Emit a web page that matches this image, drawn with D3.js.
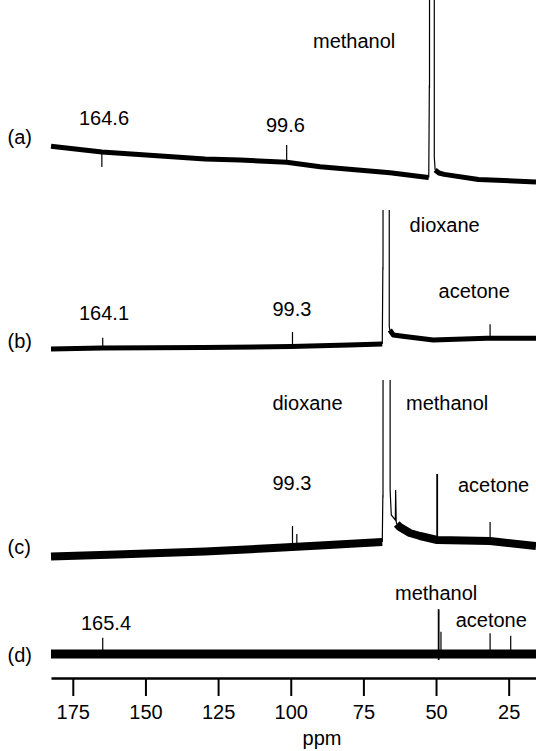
<!DOCTYPE html>
<html>
<head>
<meta charset="utf-8">
<script src="https://cdn.jsdelivr.net/npm/d3@7"></script>
<style>
  body { margin: 0; background: #fff; }
  text { font-family: "Liberation Sans", Arial, Helvetica, sans-serif; font-size: 20px; fill: #000; }
</style>
</head>
<body>
<div id="chart"></div>
<script>
// ppm axis
var ppmTicks = [175, 150, 125, 100, 75, 50, 25];
var ppmRange = [182.5, 15.6];

// spectra, intensity in arbitrary units, [ppm, intensity]
// baselines are split where a big peak breaks them
var baseA = [
  [[182.5, 36.7], [165, 31], [129.5, 24], [117.4, 23], [101.4, 20.7], [89.9, 16.3], [65.8, 10.3], [54.1, 6], [52.5, 5.5]],
  [[50.3, 13], [49, 10], [47.2, 8.6], [35.4, 3.5], [15.6, 1]]
];
var baseB = [
  [[182.5, 1], [165, 2], [130, 2.5], [100, 3.5], [80, 5], [68.5, 6]],
  [[65.9, 20], [64.7, 15], [60.1, 13.3], [51, 10], [32.5, 11.7], [15.6, 11.7]]
];
var baseC = [
  [[182.5, 3.4], [160, 5.5], [129.5, 8.5], [106, 12], [90, 14.5], [68.5, 18]],
  [[63.5, 36], [62.5, 33], [59, 27], [55.5, 24], [49.6, 20], [31.4, 19], [15.6, 14]]
];
var baseD = [
  [[182.5, 0], [15.6, 0]]
];

// truncated solvent peaks (run off the top of their panel)
var peakA = [[52.5, 5.5], [52.3, 98], [52.25, 95], [52.2, 500], [50.6, 500], [50.6, 26], [50.3, 13]];
var peakB = [[68.5, 6], [68.3, 83], [68.25, 80], [68.2, 500], [66.1, 500], [66.1, 23.3], [65.9, 20]];
var peakC = [[68.5, 18], [68.3, 65], [68.25, 62], [68.2, 500], [65.8, 500], [65.8, 70], [65.4, 45],
             [64.0, 40], [63.9, 70], [63.7, 38], [63.5, 36]];

// narrow lines: [ppm, baseline intensity, top intensity]
var spikesA = [[165.0, 31, 16], [101.4, 20.7, 38]];
var spikesB = [[164.7, 2, 12.3], [99.4, 3.5, 18], [31.4, 11.7, 25.7]];
var spikesC = [[99.4, 13, 34], [97.9, 13, 26], [49.7, 20, 86], [49.5, 20, 86], [31.4, 19, 38]];
var spikesD = [[164.7, 0, 16.3], [49.2, -6, 44.7], [49.0, -6, 44.7], [48.3, 0, 22.3], [31.4, 0, 20.7], [24.3, 0, 18.3]];

// noise half-amplitude of each trace
var noiseAmp = [2.5, 2.5, 4, 4.5];

var panelNames = ["(a)", "(b)", "(c)", "(d)"];
var labelTexts = [
  ["164.6", "99.6", "methanol"],
  ["164.1", "99.3", "dioxane", "acetone"],
  ["dioxane", "methanol", "99.3", "acetone"],
  ["165.4", "methanol", "acetone"]
];

// ---- layout ----
var W = 536, H = 751;
var zeroY = [183, 350, 560, 654];     // where intensity 0 sits in each panel
var clipTop = [-10, 210, 380, 560];
var nameY = [144, 348, 554, 662];
var labelPos = [
  [[79, 125], [266, 131.6], [313, 48]],
  [[79, 320], [272.5, 316], [409.6, 231.7], [438.6, 297.7]],
  [[272.5, 409.6], [406, 409.6], [272.5, 490], [458, 491.6]],
  [[81, 629.8], [395, 599.7], [455.7, 627.4]]
];
var axisY = 678;

var svg = d3.select("#chart").append("svg")
  .attr("width", W).attr("height", H);

var x = d3.scaleLinear().domain(ppmRange).range([51, 536]);

var traces = [
  { base: baseA, peak: peakA, spikes: spikesA },
  { base: baseB, peak: peakB, spikes: spikesB },
  { base: baseC, peak: peakC, spikes: spikesC },
  { base: baseD, peak: null, spikes: spikesD }
];

traces.forEach(function(t, i) {
  var y = d3.scaleLinear().domain([0, 100]).range([zeroY[i], zeroY[i] - 100]);
  var line = d3.line().x(function(d) { return x(d[0]); }).y(function(d) { return y(d[1]); });

  svg.append("clipPath").attr("id", "clip" + i)
    .append("rect").attr("x", 0).attr("y", clipTop[i]).attr("width", W).attr("height", zeroY[i] + 40 - clipTop[i]);

  var g = svg.append("g").attr("clip-path", "url(#clip" + i + ")");

  // noisy band
  var bandW = y(0) - y(2 * noiseAmp[i]);
  t.base.forEach(function(seg) {
    g.append("path").attr("d", line(seg))
      .attr("fill", "none").attr("stroke", "#000")
      .attr("stroke-width", bandW).attr("stroke-linejoin", "round");
  });

  if (t.peak) {
    g.append("path").attr("d", line(t.peak))
      .attr("fill", "none").attr("stroke", "#000").attr("stroke-width", 1.2);
  }

  t.spikes.forEach(function(s) {
    g.append("path").attr("d", line([[s[0], s[1]], [s[0], s[2]]]))
      .attr("fill", "none").attr("stroke", "#000").attr("stroke-width", 1.2);
  });

  svg.append("text").attr("x", 7.5).attr("y", nameY[i]).text(panelNames[i]);

  labelTexts[i].forEach(function(s, j) {
    svg.append("text").attr("x", labelPos[i][j][0]).attr("y", labelPos[i][j][1]).text(s);
  });
});

// x axis
var axis = svg.append("g")
  .attr("transform", "translate(0," + axisY + ")")
  .call(d3.axisBottom(x).tickValues(ppmTicks).tickSize(18).tickSizeOuter(0).tickPadding(9));
axis.select(".domain").attr("stroke-width", 2.5);
axis.selectAll(".tick line").attr("stroke-width", 2);
axis.selectAll(".tick text")
  .style("font-family", "'Liberation Sans', Arial, sans-serif").style("font-size", "20px");

svg.append("text").attr("x", 322).attr("y", 745).attr("text-anchor", "middle").text("ppm");
</script>
</body>
</html>
